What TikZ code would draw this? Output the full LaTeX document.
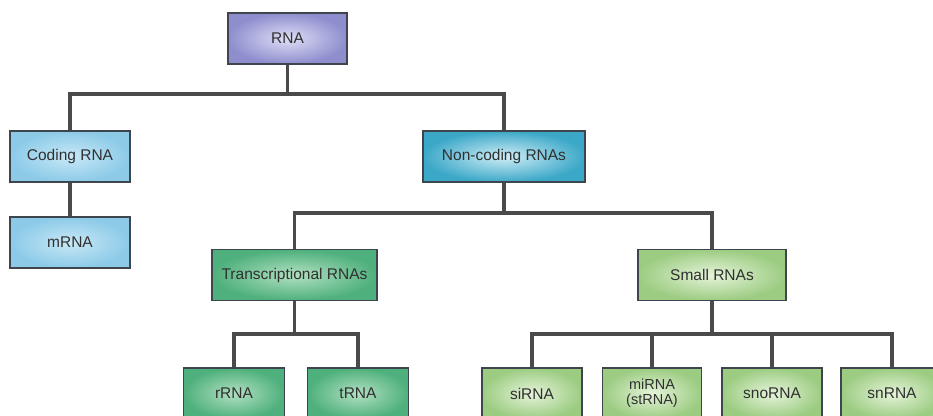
\documentclass[tikz,border=0pt]{standalone}
\usepackage{fontspec}
\setmainfont{Liberation Sans}
\definecolor{txt}{HTML}{303030}
\definecolor{bordc}{HTML}{3E454C}
\definecolor{connc}{HTML}{4A4A4A}
\definecolor{rnaIn}{HTML}{DEDEF6}\definecolor{rnaOut}{HTML}{8E8ECE}
\definecolor{codIn}{HTML}{C8E8F6}\definecolor{codOut}{HTML}{8CCAE8}
\definecolor{ncIn}{HTML}{D0EEF6}\definecolor{ncOut}{HTML}{3CA8C8}
\definecolor{trIn}{HTML}{B2E0C2}\definecolor{trOut}{HTML}{4EB07C}
\definecolor{smIn}{HTML}{E6F4DA}\definecolor{smOut}{HTML}{9CCC82}
\tikzset{
  box/.style={draw=bordc, line width=1.3pt, rectangle, inner sep=0pt,
    minimum height=51pt, text=txt, align=center,
    font=\fontsize{15.5}{13}\selectfont, shading=radial},
  rnabox/.style={box, inner color=rnaIn, outer color=rnaOut},
  codbox/.style={box, inner color=codIn, outer color=codOut},
  ncbox/.style={box, inner color=ncIn, outer color=ncOut},
  trbox/.style={box, inner color=trIn, outer color=trOut},
  smbox/.style={box, inner color=smIn, outer color=smOut},
  conn/.style={draw=connc, line width=3.2pt}
}
\begin{document}
\begin{tikzpicture}[x=1pt,y=-1pt]
\useasboundingbox (0,0) rectangle (933,415);
\clip (0,0) rectangle (933,415);
\fill[white] (0,0) rectangle (933,415);
\coordinate (j1) at (287.5,94);
\coordinate (j2) at (504,213);
\coordinate (j3) at (294.5,334);
\coordinate (j4) at (712,334);
\node[rnabox, minimum width=119pt] (rna) at (287.5,38.5) {RNA};
\node[codbox, minimum width=120pt] (coding) at (70,156.5) {Coding RNA};
\node[codbox, minimum width=120pt] (mrna) at (70,242.5) {mRNA};
\node[ncbox, minimum width=162pt] (nc) at (504,156.5) {Non-coding RNAs};
\node[trbox, minimum width=165pt] (tr) at (294.5,275) {Transcriptional RNAs};
\node[smbox, minimum width=148pt] (sm) at (712,275) {Small RNAs};
\node[trbox, minimum width=101pt] (rrna) at (234,393.5) {rRNA};
\node[trbox, minimum width=101pt] (trna) at (358,393.5) {tRNA};
\node[smbox, minimum width=100pt] (sirna) at (532,393.5) {siRNA};
\node[smbox, minimum width=99pt, font=\fontsize{14.5}{15}\selectfont] (mirna) at (652,393.5) {miRNA\\(stRNA)};
\node[smbox, minimum width=100pt] (snorna) at (772,393.5) {snoRNA};
\node[smbox, minimum width=102pt] (snrna) at (892,393.5) {snRNA};
\draw[conn] (rna.south) -- (j1);
\draw[conn] (j1) -| (coding.north);
\draw[conn] (j1) -| (nc.north);
\draw[conn] (coding.south) -- (mrna.north);
\draw[conn] (nc.south) -- (j2);
\draw[conn] (j2) -| (tr.north);
\draw[conn] (j2) -| (sm.north);
\draw[conn] (tr.south) -- (j3);
\draw[conn] (j3) -| (rrna.north);
\draw[conn] (j3) -| (trna.north);
\draw[conn] (sm.south) -- (j4);
\draw[conn] (j4) -| (sirna.north);
\draw[conn] (j4) -| (mirna.north);
\draw[conn] (j4) -| (snorna.north);
\draw[conn] (j4) -| (snrna.north);
\end{tikzpicture}
\end{document}
